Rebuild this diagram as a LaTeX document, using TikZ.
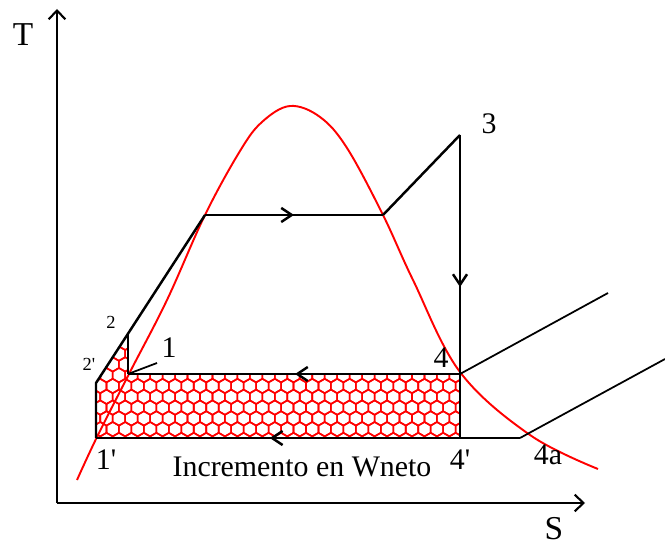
\documentclass[tikz,border=0pt]{standalone}
\usepackage{fontspec}
\setmainfont{Liberation Serif}
\usepackage{tikz}
\usetikzlibrary{
  arrows.meta,%
  decorations.markings,%
  calc,%
  positioning
}
\tikzset{>={Straight Barb[length=5pt,width=9.5pt]}}
\tikzset{
  cycleline/.style={line width=1.4pt, line join=miter},
  domeline/.style={red, line width=1.1pt},
  hexcell/.style={red, line width=0.9pt},
  statelbl/.style={font=\fontsize{17}{17}\selectfont, inner sep=0pt},
  axislbl/.style={font=\fontsize{19}{19}\selectfont, inner sep=0pt},
  smalllbl/.style={font=\fontsize{10.5}{10.5}\selectfont, inner sep=0pt},
  midarrow/.style={postaction={decorate},
    decoration={markings, mark=at position #1 with
      {\arrow{Straight Barb[length=6pt,width=8pt]}}}}
}
\newcommand{\pr}{\textquotesingle}

\begin{document}
\begin{tikzpicture}[x=0.02cm, y=-0.02cm]
  \useasboundingbox (0,0) rectangle (665,546);
  % state points
  \coordinate (o) at (57,503);
  \coordinate (ytop) at (57,9);
  \coordinate (xend) at (585,503);
  \coordinate (p1p) at (96,438);
  \coordinate (p2p) at (96,383);
  \coordinate (p2) at (128,334);
  \coordinate (p1) at (128,374);
  \coordinate (pa) at (205,215);
  \coordinate (pb) at (383,215);
  \coordinate (p3) at (460,135);
  \coordinate (p4) at (460,374);
  \coordinate (p4p) at (460,438);
  \coordinate (p4a) at (520,438);
  \coordinate (e4) at (608,293);
  \coordinate (e4a) at (665,359);
  \coordinate (lead1) at (157,363);

  % hatched area
  \begin{scope}
    \clip (p1p) -- (p2p) -- (p2) -- (p1) -- (p4) -- (p4p) -- cycle;
    \foreach \i in {0,...,10}
      \foreach \j in {0,...,30} {
        \pgfmathsetmacro\cx{94+\j*12.47+mod(\i,2)*6.24}
        \pgfmathsetmacro\cy{332+\i*10.8}
        \draw[hexcell] (\cx,\cy) +(90:7.2) -- +(30:7.2) -- +(-30:7.2)
          -- +(-90:7.2) -- +(-150:7.2) -- +(150:7.2) -- cycle;
      }
  \end{scope}

  % saturation dome
  \draw[domeline] plot[smooth, tension=0.6] coordinates {(77,480) (97,437)
    (130,372) (167,300) (205,215) (240,151) (262,122) (290,106) (320,117)
    (347,148) (383,215) (413,280) (460,372) (530,435) (598,469)};

  % axes
  \draw[line width=1.2pt, ->] (o) -- (ytop);
  \draw[line width=1.2pt, ->] (o) -- (xend);

  % cycle
  \draw[cycleline] (p1p) -- (p2p) -- (pa);
  \draw[cycleline] (p2) -- (p1);
  \draw[cycleline, midarrow=0.5] (pa) -- (pb);
  \draw[cycleline] (pb) -- (p3);
  \draw[cycleline, midarrow=0.636] (p3) -- (p4);
  \draw[cycleline, midarrow=0.497] (p4) -- (p1);
  \draw[cycleline] (p4) -- (p4p);
  \draw[cycleline, midarrow=0.59] (p4a) -- (p1p);
  \draw[line width=1pt] (p4) -- (e4);
  \draw[line width=1pt] (p4a) -- (e4a);
  \draw[line width=1pt] (p1) -- (lead1);

  % labels
  \node[axislbl] (lblT) at (23,35) {T};
  \node[axislbl] (lblS) at (554,529) {S};
  \node[statelbl] (lbl3) at (489,124) {3};
  \node[statelbl] (lbl4) at (441,358) {4};
  \node[statelbl] (lbl1) at (169,348) {1};
  \node[smalllbl] (lbl2) at (111,322) {2};
  \node[smalllbl] (lbl2p) at (89,364) {2\pr};
  \node[statelbl] (lbl1p) at (106,460) {1\pr};
  \node[statelbl] (lbl4p) at (460,460) {4\pr};
  \node[statelbl] (lbl4a) at (548,455) {4a};
  \node[statelbl] (lblW) at (302,467) {Incremento en Wneto};
\end{tikzpicture}
\end{document}
